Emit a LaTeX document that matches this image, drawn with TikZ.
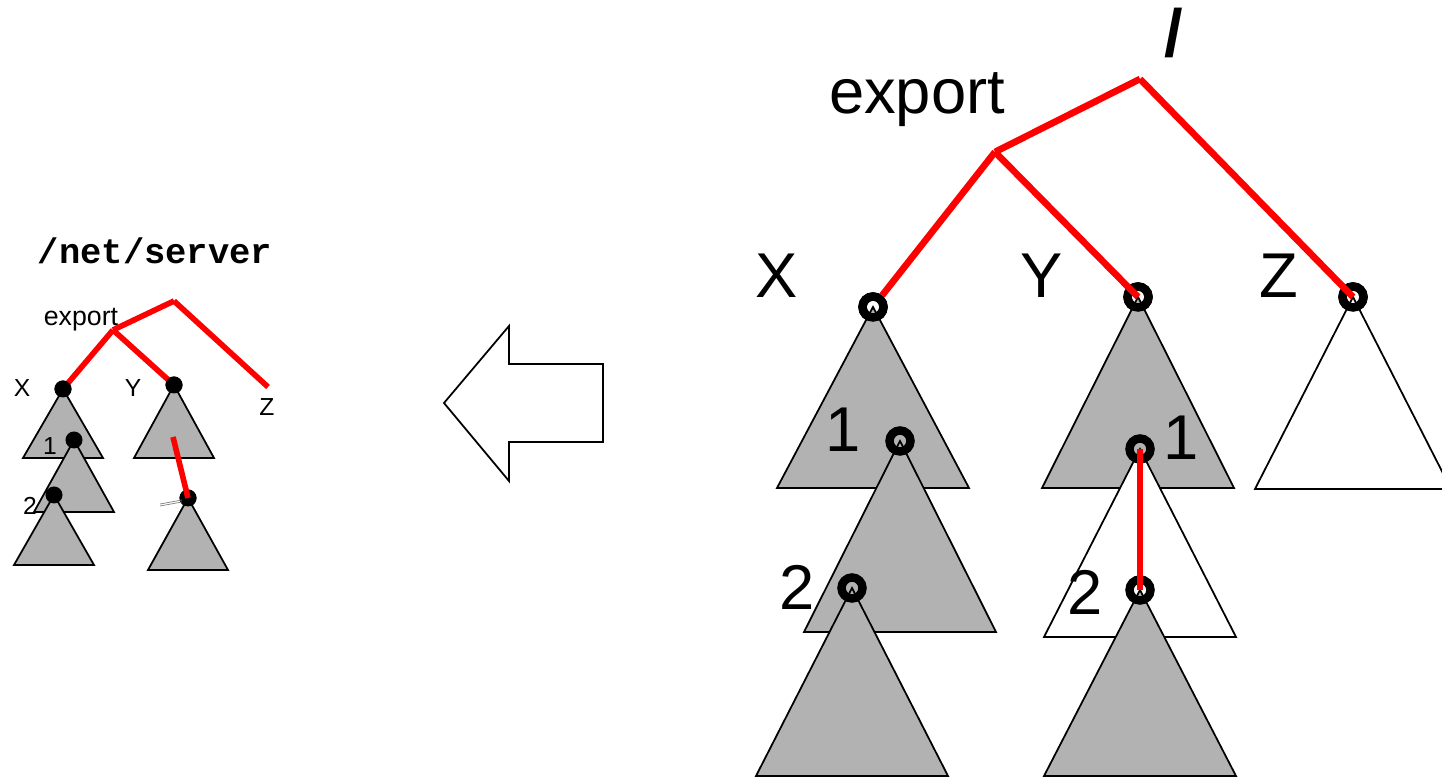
\documentclass[tikz,border=0pt]{standalone}
\usepackage{fontspec}
\setmainfont{Liberation Sans}
\newfontfamily\codefont{Liberation Mono}
\tikzset{
    redline/.style={red, line width=1.9pt},
    smallred/.style={red, line width=1.6pt},
    tri/.style={draw, line width=0.5pt, fill=black!30},
    ring/.style={circle, draw, line width=2.4pt, minimum size=0.21cm, inner sep=0pt},
    dot/.style={circle, fill=black, minimum size=0.17cm, inner sep=0pt},
    biglabel/.style={font=\fontsize{18}{20}\selectfont},
    smalllabel/.style={font=\fontsize{7}{8}\selectfont}
}
\newcommand\subtree[4][black!30]{\draw[tri, fill=#1] (#2.center) -- ++(-#3,#4) -- ++(2*#3,0) -- cycle;}
\begin{document}
\begin{tikzpicture}[x=0.01cm, y=-0.01cm]
    \useasboundingbox (0,0) rectangle (1442,780);

    \node[font=\codefont\bfseries\fontsize{10.1}{11}\selectfont] (path) at (155,251) {/net/server};
    \coordinate (sroot) at (174,301);
    \coordinate (sexport) at (113,330);
    \coordinate (sz) at (268,387);
    \node[dot] (sx) at (63,389) {};
    \node[dot] (sy) at (174,385) {};
    \node[dot] (sx1) at (74,440) {};
    \node[dot] (sx2) at (54,495) {};
    \node[dot] (sy2) at (188,498) {};
    \coordinate (sy1) at (173,437);
    \subtree{sx}{40}{69}
    \subtree{sx1}{40}{72}
    \subtree{sx2}{40}{70}
    \subtree{sy}{40}{73}
    \subtree{sy2}{40}{72}
    \draw[smallred] (sroot) -- (sexport);
    \draw[smallred] (sexport) -- (sx.center);
    \draw[smallred] (sexport) -- (sy.center);
    \draw[smallred] (sroot) -- (sz);
    \node[dot] at (sx) {};
    \node[dot] at (sy) {};
    \node[dot] at (sx1) {};
    \node[dot] at (sx2) {};
    \node[dot] at (sy2) {};
    \draw[smallred] (sy1) -- (sy2.center);
    \draw[gray, very thin] (160,506) -- (182,502);
    \draw[gray, very thin] (160,504) -- (182,500);
    \node[font=\fontsize{7.6}{9}\selectfont] (lexport) at (81,320) {export};
    \node[smalllabel] (lx) at (22,388) {X};
    \node[smalllabel] (ly) at (133,388) {Y};
    \node[smalllabel] (lz) at (267,407) {Z};
    \node[smalllabel] (l1) at (50,446) {1};
    \node[smalllabel] (l2) at (30,506) {2};

    \draw[line width=0.5pt] (444,403) -- (509,326) -- (509,364) -- (603,364)
        -- (603,442) -- (509,442) -- (509,481) -- cycle;

    \coordinate (root) at (1140,79);
    \coordinate (export) at (995,152);
    \node[ring] (x) at (873,307) {};
    \node[ring] (y) at (1138,297) {};
    \node[ring] (z) at (1353,297) {};
    \node[ring] (x1) at (900,441) {};
    \node[ring] (x2) at (852,588) {};
    \node[ring] (y1) at (1140,449) {};
    \node[ring] (y2) at (1140,590) {};
    \subtree{x}{96}{181}
    \subtree{x1}{96}{191}
    \subtree{x2}{96}{188}
    \subtree{y}{96}{191}
    \subtree[white]{y1}{96}{188}
    \subtree{y2}{96}{186}
    \subtree[white]{z}{98}{192}
    \foreach \n in {x,y,z,x1,x2,y1,y2}
        \node[ring] at (\n) {};
    \draw[redline] (root) -- (export);
    \draw[redline] (export) -- (x);
    \draw[redline] (export) -- (y.center);
    \draw[redline] (root) -- (z.center);
    \draw[redline] (y1.center) -- (y2.center);
    \node[font=\bfseries\fontsize{19}{21}\selectfont] (slash) at (1174,33) {/};
    \node[biglabel] (lbexport) at (917,100) {export};
    \node[biglabel] (lbx) at (777,276) {X};
    \node[biglabel] (lby) at (1042,276) {Y};
    \node[biglabel] (lbz) at (1279,276) {Z};
    \node[biglabel] (lbx1) at (843,430) {1};
    \node[biglabel] (lbx2) at (797,587) {2};
    \node[biglabel] (lby1) at (1181,438) {1};
    \node[biglabel] (lby2) at (1085,592) {2};
\end{tikzpicture}
\end{document}
